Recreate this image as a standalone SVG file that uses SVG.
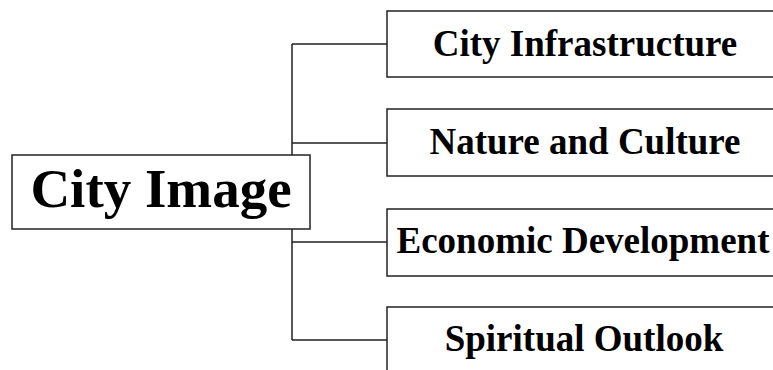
<svg xmlns="http://www.w3.org/2000/svg" width="773" height="370" viewBox="0 0 773 370">
<style>
.box{fill:#fff;stroke:#222;stroke-width:1.5}
.ln{fill:none;stroke:#222;stroke-width:1.5}
.t{font-family:"Liberation Serif","Times New Roman",serif;font-weight:bold;fill:#000;text-anchor:middle}
.s{font-size:37px}
.m{font-size:55px}
</style>
<rect width="773" height="370" fill="#fff"/>
<g id="connectors">
<path class="ln" d="M292,44 V340 M292,44 H387 M292,143 H387 M292,242 H387 M292,340 H387"/>
</g>
<g id="city-image">
<rect class="box" x="12" y="155" width="298" height="74"/>
<text class="t m" x="161" y="207">City Image</text>
</g>
<g id="city-infrastructure">
<rect class="box" x="387" y="11" width="400" height="66"/>
<text class="t s" x="585" y="56">City Infrastructure</text>
</g>
<g id="nature-culture">
<rect class="box" x="387" y="109" width="400" height="67"/>
<text class="t s" x="585" y="154">Nature and Culture</text>
</g>
<g id="economic-development">
<rect class="box" x="387" y="209" width="400" height="67"/>
<text class="t s" x="583" y="253">Economic Development</text>
</g>
<g id="spiritual-outlook">
<rect class="box" x="387" y="307" width="400" height="80"/>
<text class="t s" x="584" y="351">Spiritual Outlook</text>
</g>
</svg>
